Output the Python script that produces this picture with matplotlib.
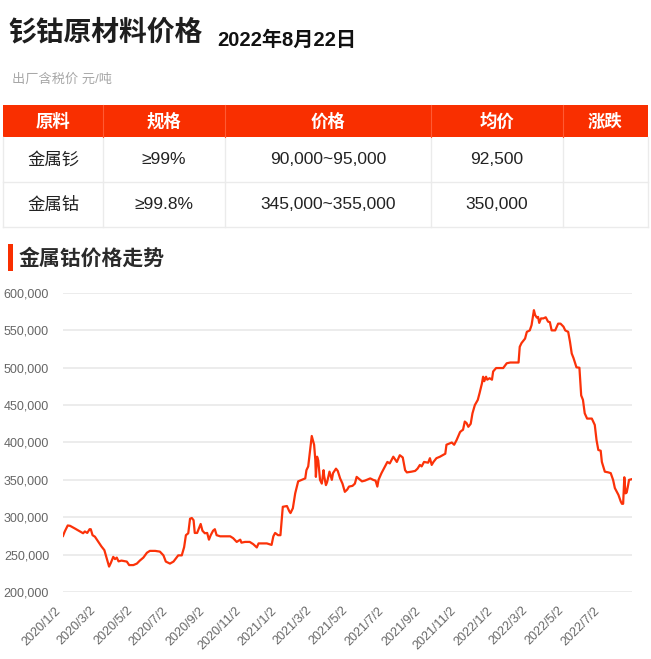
import matplotlib
matplotlib.use("Agg")
import matplotlib.pyplot as plt
import matplotlib.ticker as ticker
from matplotlib.patches import Rectangle
import pandas as pd

plt.rcParams["font.family"] = ["Liberation Sans", "Noto Sans CJK SC", "DejaVu Sans"]

# ---- data -----------------------------------------------------------------
title = "钐钴原材料价格"
date_text = "2022年8月22日"
unit_text = "出厂含税价 元/吨"
section_title = "金属钴价格走势"

table_header = ["原料", "规格", "价格", "均价", "涨跌"]
material = ["金属钐", "金属钴"]
spec = ["≥99%", "≥99.8%"]
price_range = ["90,000~95,000", "345,000~355,000"]
avg_price = ["92,500", "350,000"]
change = ["", ""]

start_date = "2020-01-02"
# days since start_date
days = [0, 3, 8, 12, 20, 32, 34, 37, 41, 45, 47, 50, 54, 60, 65, 70, 74, 78, 81, 85,
        88, 91, 94, 99, 108, 112, 119, 125, 130, 136, 142, 147, 156, 164, 170, 174, 181,
        187, 195, 201, 205, 208, 212, 215, 218, 221, 223, 227, 233, 236, 240, 244, 247,
        250, 254, 257, 260, 266, 283, 288, 294, 300, 302, 308, 316, 322, 328, 331, 345,
        353, 356, 359, 364, 368, 372, 379, 383, 385, 389, 393, 398, 404, 410, 412, 415,
        419, 421, 423, 425, 427, 428, 430, 432, 435, 438, 441, 442, 445, 447, 451, 455,
        457, 462, 465, 469, 473, 477, 481, 484, 490, 494, 497, 500, 506, 511, 520, 525,
        529, 532, 534, 539, 545, 549, 553, 559, 565, 570, 575, 579, 582, 590, 596, 600,
        604, 607, 611, 618, 621, 624, 627, 632, 638, 647, 649, 652, 658, 662, 666, 672,
        675, 677, 680, 683, 686, 690, 693, 697, 702, 705, 709, 711, 713, 716, 718, 722,
        726, 728, 733, 743, 745, 751, 757, 771, 773, 776, 782, 785, 790, 793, 797, 799,
        802, 804, 806, 809, 813, 817, 821, 824, 827, 833, 838, 842, 847, 850, 855, 858,
        861, 864, 869, 874, 877, 880, 883, 887, 895, 900, 903, 906, 910, 912, 917, 923,
        927, 931, 934, 940, 944, 946, 948, 950, 952, 954, 956, 958, 963]
prices = [275000, 281000, 289000, 288500, 285000, 279500, 278600, 281000, 279000, 284000,
          284000, 276000, 274000, 267000, 261000, 256000, 245000, 234000, 239000, 247000,
          244000, 246000, 241000, 242000, 240700, 236000, 236000, 238000, 242000, 246000,
          252500, 255000, 255000, 254000, 249000, 240700, 238000, 240700, 249000, 249000,
          260000, 276000, 278600, 298000, 299000, 296000, 279000, 279000, 291000, 282000,
          278600, 279000, 270000, 276000, 282000, 284000, 276000, 274500, 274500, 272000,
          267000, 270000, 266000, 267000, 267000, 264000, 259600, 265000, 265000, 263000,
          274500, 279000, 276000, 276000, 314000, 315000, 308000, 305600, 312000, 332000,
          348000, 350000, 352000, 363000, 368000, 396000, 408700, 403000, 397000, 377000,
          354000, 381000, 376000, 350000, 345000, 363000, 355000, 343000, 347000, 361000,
          350000, 359000, 365000, 362000, 352000, 345000, 334000, 337000, 341000, 342000,
          345000, 354000, 352000, 348000, 349000, 352000, 350000, 349000, 341000, 350000,
          359000, 368000, 374000, 372000, 381000, 374000, 383000, 380000, 363000, 360000,
          361000, 362000, 365000, 370000, 368000, 374000, 373000, 379000, 370000, 374000,
          379000, 381000, 385000, 397000, 398000, 400000, 397000, 403000, 414000, 416000,
          417000, 428000, 426000, 421000, 425000, 439000, 450000, 457000, 466000, 479000,
          488000, 482000, 488000, 484000, 486000, 484000, 495000, 499600, 499600, 499600,
          506000, 507000, 507000, 528000, 533000, 539000, 548000, 550000, 557000, 577000,
          570600, 567000, 568000, 560000, 566000, 566000, 567500, 561600, 561000, 550000,
          550000, 559000, 559000, 555000, 550000, 548000, 535000, 519000, 513000, 500600,
          500000, 463000, 457000, 439000, 432000, 432000, 423500, 403000, 390000, 389000,
          374000, 361000, 360000, 359000, 350000, 339000, 330000, 321000, 318000, 318000,
          353500, 332000, 333000, 341000, 350000, 351000]

tick_dates = ["2020/1/2", "2020/3/2", "2020/5/2", "2020/7/2", "2020/9/2", "2020/11/2",
              "2021/1/2", "2021/3/2", "2021/5/2", "2021/7/2", "2021/9/2", "2021/11/2",
              "2022/1/2", "2022/3/2", "2022/5/2", "2022/7/2"]
y_ticks = [200000, 250000, 300000, 350000, 400000, 450000, 500000, 550000, 600000]

# ---- style / layout --------------------------------------------------------
W, H = 651, 659
RED = "#f92f00"
LINE_RED = "#fb3209"
GRID = "#ebebeb"
col_edges = [3, 103, 225, 431, 563, 648]
row_edges = [105, 137, 182, 227]

fig = plt.figure(figsize=(W / 100, H / 100), dpi=100)
fig.patch.set_facecolor("white")

# page-level axes in pixel coordinates (header, table, section title)
bg = fig.add_axes([0, 0, 1, 1])
bg.set_xlim(0, W)
bg.set_ylim(H, 0)
bg.axis("off")

bg.text(8, 33, title, fontsize=20, fontweight="bold", color="#1e1e1e", va="center", ha="left")
bg.text(217, 40, date_text, fontsize=14.5, fontweight="bold", color="#111111", va="center", ha="left")
bg.text(12, 80, unit_text, fontsize=9.5, color="#a8a8a8", va="center", ha="left")

# table
bg.add_patch(Rectangle((col_edges[0], row_edges[0]), col_edges[-1] - col_edges[0],
                       row_edges[1] - row_edges[0], facecolor=RED, edgecolor="none"))
for x in col_edges:
    bg.plot([x, x], [row_edges[1], row_edges[-1]], color=GRID, lw=1)
for x in col_edges[1:-1]:
    bg.plot([x, x], [row_edges[0], row_edges[1]], color="#ff5a33", lw=0.8)
for y in row_edges[2:]:
    bg.plot([col_edges[0], col_edges[-1]], [y, y], color=GRID, lw=1)

centers = [(a + b) / 2 for a, b in zip(col_edges[:-1], col_edges[1:])]
for cx, lbl in zip(centers, table_header):
    bg.text(cx, (row_edges[0] + row_edges[1]) / 2, lbl, color="white", fontsize=12.5,
            fontweight="bold", ha="center", va="center")
rows = list(zip(material, spec, price_range, avg_price, change))
for i, row in enumerate(rows):
    cy = (row_edges[i + 1] + row_edges[i + 2]) / 2
    for cx, val in zip(centers, row):
        bg.text(cx, cy, val, color="#222222", fontsize=12.5, ha="center", va="center")

# section title
bg.add_patch(Rectangle((8, 244), 5, 27, facecolor=RED, edgecolor="none"))
bg.text(19, 258, section_title, fontsize=15, fontweight="bold", color="#2a2a2a",
        ha="left", va="center")

# ---- line chart ------------------------------------------------------------
x0, x1, ytop, ybot = 63, 632, 293, 592
ax = fig.add_axes([x0 / W, 1 - ybot / H, (x1 - x0) / W, (ybot - ytop) / H])
dates = pd.to_datetime(start_date) + pd.to_timedelta(days, unit="D")
ax.plot(dates, prices, color=LINE_RED, lw=1.6, solid_joinstyle="round")

ax.set_xlim(pd.to_datetime(start_date), dates[-1])
ax.set_ylim(y_ticks[0], y_ticks[-1])
ax.set_yticks(y_ticks)
ax.yaxis.set_major_formatter(ticker.FuncFormatter(lambda v, p: f"{int(v):,}"))
ticks = pd.to_datetime(tick_dates, format="%Y/%m/%d")
ax.set_xticks(ticks)
ax.set_xticklabels(tick_dates, rotation=45, ha="right", va="top")

ax.grid(axis="y", color=GRID, lw=1.3)
ax.set_axisbelow(True)
for s in ax.spines.values():
    s.set_visible(False)
ax.tick_params(axis="both", length=0, labelcolor="#666666")
ax.tick_params(axis="x", pad=9, labelsize=9)
ax.tick_params(axis="y", pad=10, labelsize=9)
ax.patch.set_alpha(0)

fig.savefig("out.png", dpi=100, facecolor="white")
